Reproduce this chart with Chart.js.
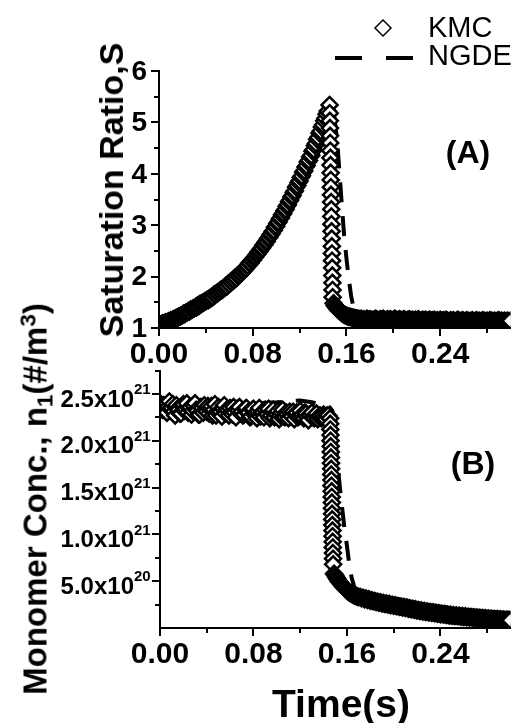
<!DOCTYPE html>
<html>
<head>
<meta charset="utf-8">
<title>Saturation ratio and monomer concentration vs time</title>
<script src="https://cdn.jsdelivr.net/npm/chart.js@4.4.1/dist/chart.umd.min.js"></script>
<style>
  html, body { margin: 0; padding: 0; background: #fff; }
  #page { position: relative; width: 521px; height: 723px; overflow: hidden;
          font-family: "Liberation Sans", Arial, Helvetica, sans-serif; color: #000; }
  #page canvas { position: absolute; left: 0; }
  .txt { position: absolute; white-space: nowrap; line-height: 1; transform: translate(-50%, -50%); }
  .bold { font-weight: bold; }
  .rot { transform: translate(-50%, -50%) rotate(-90deg); }
  .left { transform: translate(0, -50%); }
  .sub { font-size: 0.68em; position: relative; top: 0.28em; }
  .sup { font-size: 0.68em; position: relative; top: -0.5em; }
</style>
</head>
<body>
<div id="page">
  <canvas id="satChart" width="521" height="370" style="top:0"></canvas>
  <canvas id="monoChart" width="521" height="363" style="top:360px"></canvas>

  <div class="txt bold rot" style="left:111px;top:190px;font-size:34px">Saturation Ratio,S</div>
  <div class="txt bold rot" style="left:35px;top:499px;font-size:33px">Monomer Conc., n<span class="sub">1</span>(#/m<span class="sup">3</span>)</div>
  <div class="txt bold" style="left:341px;top:703px;font-size:39px">Time(s)</div>
  <div class="txt bold" style="left:468px;top:152px;font-size:32px">(A)</div>
  <div class="txt bold" style="left:473px;top:463px;font-size:32px">(B)</div>
  <div class="txt left" style="left:428px;top:27px;font-size:29px">KMC</div>
  <div class="txt left" style="left:428px;top:55px;font-size:29px">NGDE</div>
</div>

<script>
// KMC run: time (s), saturation ratio S, monomer conc. n1 (units of 1e21 #/m3)
const kmcTime = [
  // growth of S before nucleation
  0.000, 0.001, 0.002, 0.003, 0.004, 0.005, 0.006, 0.007, 0.008, 0.009,
  0.010, 0.011, 0.012, 0.013, 0.014, 0.015, 0.016, 0.017, 0.018, 0.019,
  0.020, 0.021, 0.022, 0.023, 0.024, 0.025, 0.026, 0.027, 0.028, 0.029,
  0.030, 0.031, 0.032, 0.033, 0.034, 0.035, 0.036, 0.037, 0.038, 0.039,
  0.040, 0.041, 0.042, 0.043, 0.044, 0.045, 0.046, 0.047, 0.048, 0.049,
  0.050, 0.051, 0.052, 0.053, 0.054, 0.055, 0.056, 0.057, 0.058, 0.059,
  0.060, 0.061, 0.062, 0.063, 0.064, 0.065, 0.066, 0.067, 0.068, 0.069,
  0.070, 0.071, 0.072, 0.073, 0.074, 0.075, 0.076, 0.077, 0.078, 0.079,
  0.080, 0.081, 0.082, 0.083, 0.084, 0.085, 0.086, 0.087, 0.088, 0.089,
  0.090, 0.091, 0.092, 0.093, 0.094, 0.095, 0.096, 0.097, 0.098, 0.099,
  0.100, 0.101, 0.102, 0.103, 0.104, 0.105, 0.106, 0.107, 0.108, 0.109,
  0.110, 0.111, 0.112, 0.113, 0.114, 0.115, 0.116, 0.117, 0.118, 0.119,
  0.120, 0.121, 0.122, 0.123, 0.124, 0.125, 0.126, 0.127, 0.128, 0.129,
  0.130, 0.131, 0.132, 0.133, 0.134, 0.135, 0.136, 0.137, 0.138, 0.139,
  0.140, 0.141, 0.142, 0.143, 0.144,
  // nucleation burst
  0.1456, 0.1457, 0.1458, 0.1459, 0.1460, 0.1461, 0.1462, 0.1463, 0.1464, 0.1465,
  0.1466, 0.1467, 0.1468, 0.1469, 0.1470, 0.1471, 0.1472, 0.1473, 0.1474, 0.1475,
  0.1476, 0.1477, 0.1478, 0.1479, 0.1480, 0.1481, 0.1482,
  // condensation / growth
  0.149, 0.150, 0.151, 0.152, 0.153, 0.154, 0.155, 0.156, 0.157, 0.158,
  0.159, 0.160, 0.161, 0.162, 0.163, 0.164, 0.165, 0.166, 0.167, 0.168,
  0.169, 0.170,
  0.17125, 0.1725, 0.17375, 0.175, 0.17625, 0.1775, 0.17875, 0.180, 0.18125, 0.1825,
  0.18375, 0.185, 0.18625, 0.1875, 0.18875, 0.190, 0.19125, 0.1925, 0.19375, 0.195,
  0.19625, 0.1975, 0.19875, 0.200, 0.20125, 0.2025, 0.20375, 0.205, 0.20625, 0.2075,
  0.20875, 0.210, 0.21125, 0.2125, 0.21375, 0.215, 0.21625, 0.2175, 0.21875, 0.220,
  0.22125, 0.2225, 0.22375, 0.225, 0.22625, 0.2275, 0.22875, 0.230, 0.23125, 0.2325,
  0.23375, 0.235, 0.23625, 0.2375, 0.23875, 0.240, 0.24125, 0.2425, 0.24375, 0.245,
  0.24625, 0.2475, 0.24875, 0.250, 0.25125, 0.2525, 0.25375, 0.255, 0.25625, 0.2575,
  0.25875, 0.260, 0.26125, 0.2625, 0.26375, 0.265, 0.26625, 0.2675, 0.26875, 0.270,
  0.27125, 0.2725, 0.27375, 0.275, 0.27625, 0.2775, 0.27875, 0.280, 0.28125, 0.2825,
  0.28375, 0.285, 0.28625, 0.2875, 0.28875, 0.290, 0.29125, 0.2925, 0.29375, 0.295,
  0.29625, 0.2975, 0.29875, 0.300
];

const kmcSat = [
  1.05, 1.07, 1.06, 1.09, 1.08, 1.10, 1.11, 1.10, 1.13, 1.12,
  1.15, 1.14, 1.17, 1.16, 1.19, 1.20, 1.20, 1.23, 1.22, 1.25,
  1.25, 1.28, 1.27, 1.30, 1.30, 1.33, 1.32, 1.36, 1.35, 1.38,
  1.38, 1.41, 1.40, 1.44, 1.43, 1.47, 1.46, 1.49, 1.49, 1.52,
  1.52, 1.55, 1.54, 1.58, 1.57, 1.61, 1.60, 1.65, 1.64, 1.68,
  1.67, 1.71, 1.71, 1.75, 1.74, 1.78, 1.78, 1.82, 1.81, 1.86,
  1.85, 1.90, 1.89, 1.94, 1.93, 1.98, 1.97, 2.02, 2.02, 2.06,
  2.06, 2.10, 2.11, 2.15, 2.16, 2.20, 2.21, 2.26, 2.26, 2.31,
  2.32, 2.36, 2.38, 2.42, 2.44, 2.48, 2.50, 2.54, 2.56, 2.61,
  2.62, 2.67, 2.69, 2.74, 2.76, 2.81, 2.83, 2.88, 2.90, 2.96,
  2.98, 3.04, 3.06, 3.12, 3.14, 3.20, 3.23, 3.28, 3.31, 3.37,
  3.40, 3.46, 3.49, 3.55, 3.58, 3.64, 3.67, 3.74, 3.77, 3.83,
  3.86, 3.93, 3.96, 4.03, 4.06, 4.13, 4.16, 4.23, 4.26, 4.33,
  4.36, 4.44, 4.47, 4.55, 4.59, 4.67, 4.71, 4.79, 4.83, 4.91,
  4.95, 5.03, 5.08, 5.16, 5.22,
  5.34, 5.18, 5.03, 4.89, 4.74, 4.60, 4.45, 4.31, 4.17, 4.02,
  3.88, 3.74, 3.59, 3.45, 3.31, 3.17, 3.02, 2.88, 2.74, 2.59,
  2.45, 2.31, 2.17, 2.02, 1.88, 1.74, 1.60,
  1.48, 1.44, 1.41, 1.38, 1.35, 1.33, 1.31, 1.29, 1.28, 1.26,
  1.25, 1.24, 1.23, 1.22, 1.22, 1.21, 1.20, 1.20, 1.19, 1.19,
  1.18, 1.18,
  1.17, 1.18, 1.16, 1.17, 1.15, 1.18, 1.16, 1.17, 1.16, 1.15,
  1.17, 1.18, 1.16, 1.15, 1.17, 1.16, 1.18, 1.16, 1.15, 1.17,
  1.16, 1.17, 1.15, 1.16, 1.18, 1.16, 1.15, 1.17, 1.16, 1.15,
  1.17, 1.16, 1.14, 1.16, 1.17, 1.15, 1.16, 1.14, 1.16, 1.15,
  1.17, 1.15, 1.14, 1.16, 1.15, 1.16, 1.14, 1.15, 1.16, 1.14,
  1.15, 1.16, 1.14, 1.15, 1.13, 1.16, 1.14, 1.15, 1.14, 1.16,
  1.14, 1.13, 1.15, 1.14, 1.15, 1.13, 1.14, 1.16, 1.14, 1.13,
  1.15, 1.14, 1.13, 1.15, 1.14, 1.13, 1.14, 1.15, 1.13, 1.14,
  1.15, 1.13, 1.14, 1.13, 1.15, 1.14, 1.13, 1.14, 1.13, 1.15,
  1.14, 1.13, 1.14, 1.13, 1.14, 1.15, 1.13, 1.14, 1.13, 1.14,
  1.13, 1.14, 1.13, 1.14
];

const kmcMono = [
  2.40, 2.35, 2.33, 2.38, 2.37, 2.31, 2.30, 2.36, 2.42, 2.34,
  2.35, 2.39, 2.31, 2.27, 2.38, 2.34, 2.33, 2.29, 2.29, 2.37,
  2.39, 2.32, 2.34, 2.40, 2.30, 2.35, 2.36, 2.28, 2.32, 2.37,
  2.40, 2.33, 2.32, 2.28, 2.28, 2.36, 2.35, 2.30, 2.38, 2.33,
  2.31, 2.37, 2.29, 2.34, 2.37, 2.27, 2.33, 2.39, 2.27, 2.31,
  2.36, 2.32, 2.31, 2.26, 2.34, 2.38, 2.29, 2.33, 2.33, 2.27,
  2.35, 2.30, 2.28, 2.36, 2.30, 2.25, 2.34, 2.32, 2.36, 2.29,
  2.31, 2.27, 2.28, 2.34, 2.35, 2.30, 2.30, 2.25, 2.26, 2.33,
  2.34, 2.28, 2.30, 2.24, 2.31, 2.35, 2.26, 2.30, 2.30, 2.25,
  2.33, 2.29, 2.28, 2.34, 2.24, 2.27, 2.31, 2.33, 2.25, 2.29,
  2.28, 2.32, 2.23, 2.27, 2.30, 2.33, 2.26, 2.25, 2.30, 2.28,
  2.24, 2.31, 2.27, 2.26, 2.31, 2.23, 2.29, 2.30, 2.25, 2.26,
  2.32, 2.27, 2.28, 2.24, 2.30, 2.29, 2.25, 2.22, 2.28, 2.27,
  2.30, 2.25, 2.24, 2.28, 2.29, 2.23, 2.26, 2.27, 2.24, 2.25,
  2.28, 2.26, 2.23, 2.27, 2.27,
  2.24, 2.18, 2.12, 2.06, 2.00, 1.94, 1.88, 1.82, 1.76, 1.70,
  1.64, 1.58, 1.52, 1.46, 1.40, 1.34, 1.28, 1.22, 1.16, 1.10,
  1.04, 0.98, 0.92, 0.86, 0.80, 0.74, 0.68,
  0.58, 0.56, 0.54, 0.52, 0.50, 0.485, 0.47, 0.455, 0.44, 0.43,
  0.415, 0.40, 0.39, 0.38, 0.37, 0.365, 0.36, 0.35, 0.345, 0.34,
  0.335, 0.33,
  0.330, 0.318, 0.322, 0.308, 0.314, 0.300, 0.306, 0.292, 0.297, 0.285,
  0.289, 0.278, 0.281, 0.270, 0.275, 0.262, 0.268, 0.256, 0.261, 0.250,
  0.255, 0.243, 0.249, 0.238, 0.242, 0.232, 0.236, 0.226, 0.229, 0.219,
  0.224, 0.213, 0.218, 0.207, 0.212, 0.201, 0.205, 0.194, 0.199, 0.188,
  0.193, 0.183, 0.188, 0.177, 0.182, 0.172, 0.177, 0.166, 0.171, 0.162,
  0.167, 0.157, 0.162, 0.153, 0.158, 0.148, 0.153, 0.144, 0.149, 0.140,
  0.145, 0.135, 0.140, 0.131, 0.137, 0.128, 0.134, 0.125, 0.130, 0.121,
  0.127, 0.118, 0.124, 0.115, 0.121, 0.112, 0.118, 0.109, 0.114, 0.106,
  0.112, 0.104, 0.109, 0.101, 0.106, 0.098, 0.104, 0.096, 0.101, 0.094,
  0.099, 0.092, 0.097, 0.090, 0.095, 0.088, 0.093, 0.086, 0.091, 0.085,
  0.089, 0.084, 0.087, 0.082
];

// NGDE solution on the same axes
const ngdeTime = [0, 0.02, 0.04, 0.06, 0.08, 0.10, 0.12, 0.13, 0.14, 0.145,
  0.1475, 0.150, 0.152, 0.154, 0.156, 0.158, 0.160, 0.162, 0.164, 0.166,
  0.169, 0.173, 0.18, 0.19, 0.20, 0.22, 0.24, 0.26, 0.28, 0.30];
const ngdeSat = [1.05, 1.26, 1.52, 1.86, 2.32, 2.98, 3.86, 4.36, 4.95, 5.30,
  5.40, 5.05, 4.65, 4.05, 3.40, 2.80, 2.35, 1.95, 1.62, 1.40,
  1.25, 1.19, 1.17, 1.165, 1.16, 1.155, 1.15, 1.145, 1.14, 1.14];
const ngdeMono = [2.42, 2.40, 2.39, 2.39, 2.40, 2.41, 2.43, 2.41, 2.38, 2.36,
  2.32, 2.05, 1.75, 1.50, 1.27, 1.05, 0.88, 0.68, 0.54, 0.45,
  0.38, 0.34, 0.30, 0.265, 0.24, 0.19, 0.15, 0.12, 0.098, 0.083];

// axis ticks
const timeTicks = [0, 0.08, 0.16, 0.24];
const timeTickLabels = ['0.00', '0.08', '0.16', '0.24'];
const timeMinorTicks = [0.04, 0.12, 0.20, 0.28];
const satTicks = [1, 2, 3, 4, 5, 6];
const satTickLabels = ['1', '2', '3', '4', '5', '6'];
const satMinorTicks = [1.5, 2.5, 3.5, 4.5, 5.5];
const monoTicks = [0.5, 1.0, 1.5, 2.0, 2.5];
const monoTickLabels = ['5.0x10', '1.0x10', '1.5x10', '2.0x10', '2.5x10'];
const monoTickExponents = ['20', '21', '21', '21', '21'];
const monoMinorTicks = [0.25, 0.75, 1.25, 1.75, 2.25, 2.75];

const FONT = '"Liberation Sans", Arial, Helvetica, sans-serif';

function pairs(xs, ys) {
  return xs.map((x, i) => ({ x: x, y: ys[i] }));
}

// outward tick marks, tick labels (with exponents) and the legend keys
const axisMarks = {
  id: 'axisMarks',
  afterDraw(chart, args, opts) {
    const ctx = chart.ctx;
    const area = chart.chartArea;
    const xs = chart.scales.x;
    const ys = chart.scales.y;

    ctx.save();
    ctx.strokeStyle = '#000';
    ctx.lineWidth = 2;
    ctx.beginPath();
    const xTick = (v, len) => {
      const p = Math.round(xs.getPixelForValue(v));
      ctx.moveTo(p, area.bottom);
      ctx.lineTo(p, area.bottom + len);
    };
    const yTick = (v, len) => {
      const p = Math.round(ys.getPixelForValue(v));
      ctx.moveTo(area.left, p);
      ctx.lineTo(area.left - len, p);
    };
    opts.xMajor.forEach(v => xTick(v, 8));
    opts.xMinor.forEach(v => xTick(v, 5));
    opts.yMajor.forEach(v => yTick(v, 8));
    opts.yMinor.forEach(v => yTick(v, 5));
    ctx.stroke();

    ctx.fillStyle = '#000';
    ctx.textBaseline = 'middle';
    ctx.textAlign = 'center';
    ctx.font = 'bold 30px ' + FONT;
    opts.xMajor.forEach((v, i) => {
      ctx.fillText(opts.xLabels[i], xs.getPixelForValue(v), area.bottom + 27);
    });

    if (opts.yExponents) {
      opts.yMajor.forEach((v, i) => {
        const p = ys.getPixelForValue(v);
        ctx.textAlign = 'right';
        ctx.font = 'bold 24px ' + FONT;
        ctx.fillText(opts.yLabels[i], area.left - 26, p + 6);
        ctx.textAlign = 'left';
        ctx.font = 'bold 15px ' + FONT;
        ctx.fillText(opts.yExponents[i], area.left - 26, p - 4);
      });
    } else {
      ctx.textAlign = 'right';
      ctx.font = 'bold 28px ' + FONT;
      opts.yMajor.forEach((v, i) => {
        ctx.fillText(opts.yLabels[i], area.left - 12, ys.getPixelForValue(v) + 1);
      });
    }

    if (opts.legend) {
      const kmc = chart.data.datasets[0];
      const ngde = chart.data.datasets[1];
      const r = kmc.pointRadius;
      const cx = 383, cy = 28;
      ctx.beginPath();
      ctx.moveTo(cx - r, cy);
      ctx.lineTo(cx, cy - r);
      ctx.lineTo(cx + r, cy);
      ctx.lineTo(cx, cy + r);
      ctx.closePath();
      ctx.fillStyle = kmc.pointBackgroundColor;
      ctx.fill();
      ctx.lineWidth = 1.5;
      ctx.strokeStyle = kmc.pointBorderColor;
      ctx.stroke();

      ctx.beginPath();
      ctx.setLineDash([27, 24]);
      ctx.lineWidth = ngde.borderWidth;
      ctx.strokeStyle = ngde.borderColor;
      ctx.moveTo(335, 58);
      ctx.lineTo(413, 58);
      ctx.stroke();
    }
    ctx.restore();
  }
};

function kmcDataset(data) {
  return {
    label: 'KMC',
    data: data,
    showLine: false,
    pointStyle: 'rectRot',
    pointRadius: 8,
    pointHoverRadius: 8,
    pointBorderWidth: 2.5,
    pointBackgroundColor: '#fff',
    pointBorderColor: '#000',
    clip: 0
  };
}

function ngdeDataset(data) {
  return {
    label: 'NGDE',
    data: data,
    borderColor: '#000',
    borderWidth: 4,
    borderDash: [20, 14],
    pointRadius: 0,
    tension: 0,
    fill: false,
    clip: 0
  };
}

function axisOptions(min, max, size) {
  return {
    type: 'linear',
    min: min,
    max: max,
    grid: { display: false },
    ticks: { display: false },
    border: { display: true, color: '#000', width: 2, z: 1 },
    afterFit: scale => {
      if (scale.isHorizontal()) scale.height = size;
      else scale.width = size;
    }
  };
}

function makeChart(id, datasets, yMin, yMax, padding, marks) {
  return new Chart(document.getElementById(id), {
    type: 'line',
    data: { datasets: datasets },
    options: {
      responsive: false,
      animation: false,
      events: [],
      layout: { padding: padding },
      plugins: {
        legend: { display: false },
        tooltip: { enabled: false },
        axisMarks: marks
      },
      scales: {
        x: axisOptions(0, 0.30, 20),
        y: axisOptions(yMin, yMax, 40)
      }
    },
    plugins: [axisMarks]
  });
}

// (A) saturation ratio
makeChart('satChart',
  [kmcDataset(pairs(kmcTime, kmcSat)), ngdeDataset(pairs(ngdeTime, ngdeSat))],
  1, 6,
  { left: 119, right: 2, top: 71, bottom: 22 },
  {
    xMajor: timeTicks, xMinor: timeMinorTicks, xLabels: timeTickLabels,
    yMajor: satTicks, yMinor: satMinorTicks, yLabels: satTickLabels,
    legend: true
  });

// (B) monomer concentration
makeChart('monoChart',
  [kmcDataset(pairs(kmcTime, kmcMono)), ngdeDataset(pairs(ngdeTime, ngdeMono))],
  0, 2.75,
  { left: 120, right: 2, top: 10, bottom: 75 },
  {
    xMajor: timeTicks, xMinor: timeMinorTicks, xLabels: timeTickLabels,
    yMajor: monoTicks, yMinor: monoMinorTicks, yLabels: monoTickLabels,
    yExponents: monoTickExponents
  });
</script>
</body>
</html>
